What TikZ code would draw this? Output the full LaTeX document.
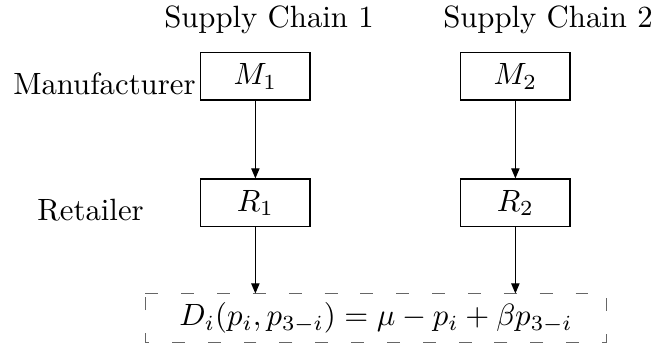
\documentclass[tikz,border=0pt]{standalone}
\usetikzlibrary{arrows.meta}
\begin{document}
\begin{tikzpicture}[x=0.325pt,y=-0.325pt,
  agent/.style={draw, line width=0.4pt, minimum width=35.5pt, minimum height=15.5pt, inner sep=0pt},
  demand/.style={minimum width=149.5pt, minimum height=15.5pt, inner sep=0pt},
  dashline/.style={draw=black!60, line width=0.5pt, dash pattern=on 4.2pt off 7.45pt},
  flow/.style={-{Triangle[length=3.3pt,width=2.7pt]}, line width=0.4pt},
  lbl/.style={inner sep=0pt, anchor=base}]
\useasboundingbox (0,0) rectangle (657,347);
\node[lbl] (sc1) at (269,28) {Supply Chain 1};
\node[lbl] (sc2) at (548,28) {Supply Chain 2};
\node[lbl] (man) at (104.5,95) {Manufacturer};
\node[lbl] (ret) at (90.5,221) {Retailer};
\node[agent] (M1) at (255.4,76.2) {$M_1$};
\node[agent] (M2) at (515.4,76.2) {$M_2$};
\node[agent] (R1) at (255.4,202.9) {$R_1$};
\node[agent] (R2) at (515.4,202.9) {$R_2$};
\node[demand] (D) at (376,318) {$D_i(p_i,p_{3-i})=\mu-p_i+\beta p_{3-i}$};
\draw[dashline] (D.north west) -- (D.north east) -- (D.south east) -- (D.south west) -- cycle;
\draw[flow] (M1.south) -- (R1.north);
\draw[flow] (M2.south) -- (R2.north);
\draw[flow] (R1.south) -- (R1.south |- D.north);
\draw[flow] (R2.south) -- (R2.south |- D.north);
\end{tikzpicture}
\end{document}
